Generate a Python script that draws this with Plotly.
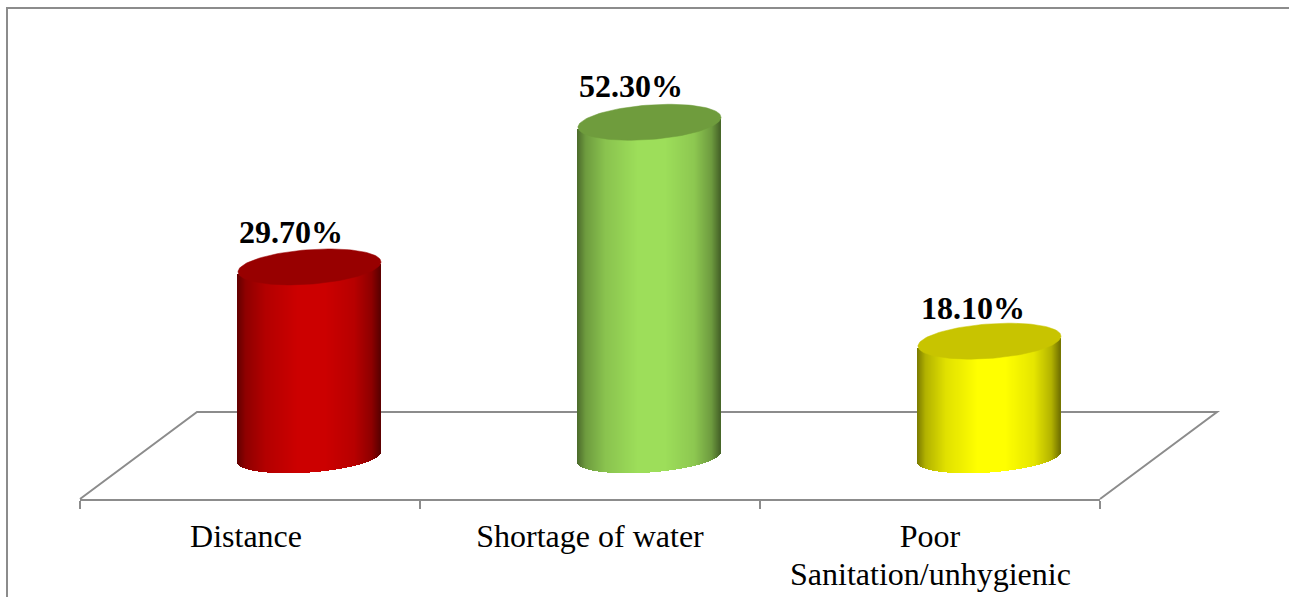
import numpy as np
import plotly.graph_objects as go

# Chart data
categories = ["Distance", "Shortage of water", "Poor<br>Sanitation/unhygienic"]
values = [29.7, 52.3, 18.1]
labels = ["29.70%", "52.30%", "18.10%"]
side_colors = [(204, 0, 0), (157, 222, 90), (255, 255, 0)]
top_colors = ["#980000", "#6f9c3d", "#c8c400"]

# Page geometry, in pixels
W, H = 1289, 597
PLOT_L, PLOT_R, PLOT_B = 80, 1100, 499
ZERO_Y = 457
PX_PER_UNIT = 6.4
BAND = (PLOT_R - PLOT_L) / 3
CYL_SHIFT = 59.5 / BAND    # cylinders sit back on the floor, to the right of the band centre
CYL_HALF = 71.5 / BAND
TOP_B = 17.3 / PX_PER_UNIT
RIM_B = 15.5 / PX_PER_UNIT
ELL_TILT = 5 / PX_PER_UNIT
LABEL_SHIFTS = [41 / BAND, 41 / BAND, 43 / BAND]
LABEL_LIFTS = [35, 36, 33]
TICK_NUDGES = [-4 / BAND, 0, 0]
GRAY = "#8c8c8c"
SERIF = "Liberation Serif, Times New Roman, serif"

SHADE_T = [0, 0.06, 0.2, 0.42, 0.62, 0.82, 0.94, 1]
SHADE_F = [0.48, 0.70, 0.88, 1, 1, 0.90, 0.70, 0.45]


def px_x(px):
    return (px - PLOT_L) / (PLOT_R - PLOT_L)


def px_y(py):
    return (PLOT_B - py) / PLOT_B


fig = go.Figure()

# Cylinder walls are narrow shaded bars; each bar's height is the category value
# and its base follows the lower rim of the ellipse.
n = 143
for i, (v, rgb, top) in enumerate(zip(values, side_colors, top_colors)):
    cx = i + 0.5 + CYL_SHIFT
    edges = np.linspace(-1, 1, n + 1)
    t = (edges[:-1] + edges[1:]) / 2
    base = -RIM_B * np.sqrt(1 - t**2) + ELL_TILT * t
    shade = np.interp((t + 1) / 2, SHADE_T, SHADE_F)
    colors = [
        "rgb({},{},{})".format(*[int(c * f) for c in rgb]) for f in shade
    ]
    fig.add_trace(
        go.Bar(
            x=cx + t * CYL_HALF,
            y=[v] * n,
            base=base,
            width=[2 * CYL_HALF / n * 1.25] * n,
            marker=dict(color=colors, line=dict(width=0)),
            hoverinfo="skip",
            showlegend=False,
        )
    )
    # Top face of the cylinder
    a = np.linspace(0, 2 * np.pi, 121)
    fig.add_trace(
        go.Scatter(
            x=cx + CYL_HALF * np.cos(a),
            y=v + TOP_B * np.sin(a) + ELL_TILT * np.cos(a),
            mode="lines",
            fill="toself",
            fillcolor=top,
            line=dict(width=0.5, color=top),
            hoverinfo="skip",
            showlegend=False,
        )
    )
    # Value label above the top face
    fig.add_annotation(
        x=i + 0.5 + LABEL_SHIFTS[i],
        y=v,
        yshift=LABEL_LIFTS[i],
        text="<b>" + labels[i] + "</b>",
        showarrow=False,
        xanchor="center",
        yanchor="middle",
        font=dict(family=SERIF, size=32, color="#000000"),
    )

# Floor outline and the outer frame
shapes = [
    dict(
        type="path",
        xref="paper",
        yref="paper",
        layer="below",
        path="M{},{} L{},{} L{},{} L{},{}".format(
            px_x(80), px_y(499), px_x(197), px_y(412),
            px_x(1217), px_y(412), px_x(1100), px_y(499),
        ),
        line=dict(color=GRAY, width=2),
    ),
    dict(
        type="path",
        xref="paper",
        yref="paper",
        layer="below",
        path="M{},{} L{},{} L{},{}".format(
            px_x(7), px_y(597), px_x(7), px_y(8), px_x(1289), px_y(8),
        ),
        line=dict(color=GRAY, width=2),
    ),
]

# Tick labels: first lines on the axis, wrapped lines placed below them
first_lines = [c.split("<br>")[0] for c in categories]
for i, c in enumerate(categories):
    for line_no, extra in enumerate(c.split("<br>")[1:], start=1):
        fig.add_annotation(
            x=i + 0.5,
            xref="x",
            y=px_y(537 + 37 * line_no),
            yref="paper",
            text=extra,
            showarrow=False,
            xanchor="center",
            yanchor="middle",
            font=dict(family=SERIF, size=32, color="#000000"),
        )

fig.update_layout(
    width=W,
    height=H,
    autosize=False,
    margin=dict(l=PLOT_L, r=W - PLOT_R, t=0, b=H - PLOT_B, pad=0),
    paper_bgcolor="white",
    plot_bgcolor="white",
    barmode="overlay",
    bargap=0,
    shapes=shapes,
    xaxis=dict(
        range=[0, 3],
        tickmode="array",
        tickvals=[i + 0.5 + TICK_NUDGES[i] for i in range(len(categories))],
        ticktext=first_lines,
        ticks="",
        ticklabelstandoff=8,
        tickfont=dict(family=SERIF, size=32, color="#000000"),
        minor=dict(tick0=0, dtick=1, ticks="outside", ticklen=8, tickwidth=2, tickcolor=GRAY, showgrid=False),
        showgrid=False,
        zeroline=False,
        showline=True,
        linecolor=GRAY,
        linewidth=2,
        fixedrange=True,
    ),
    yaxis=dict(
        range=[(ZERO_Y - PLOT_B) / PX_PER_UNIT, ZERO_Y / PX_PER_UNIT],
        visible=False,
        fixedrange=True,
    ),
)

fig.write_html("out.html", config=dict(displayModeBar=False))
